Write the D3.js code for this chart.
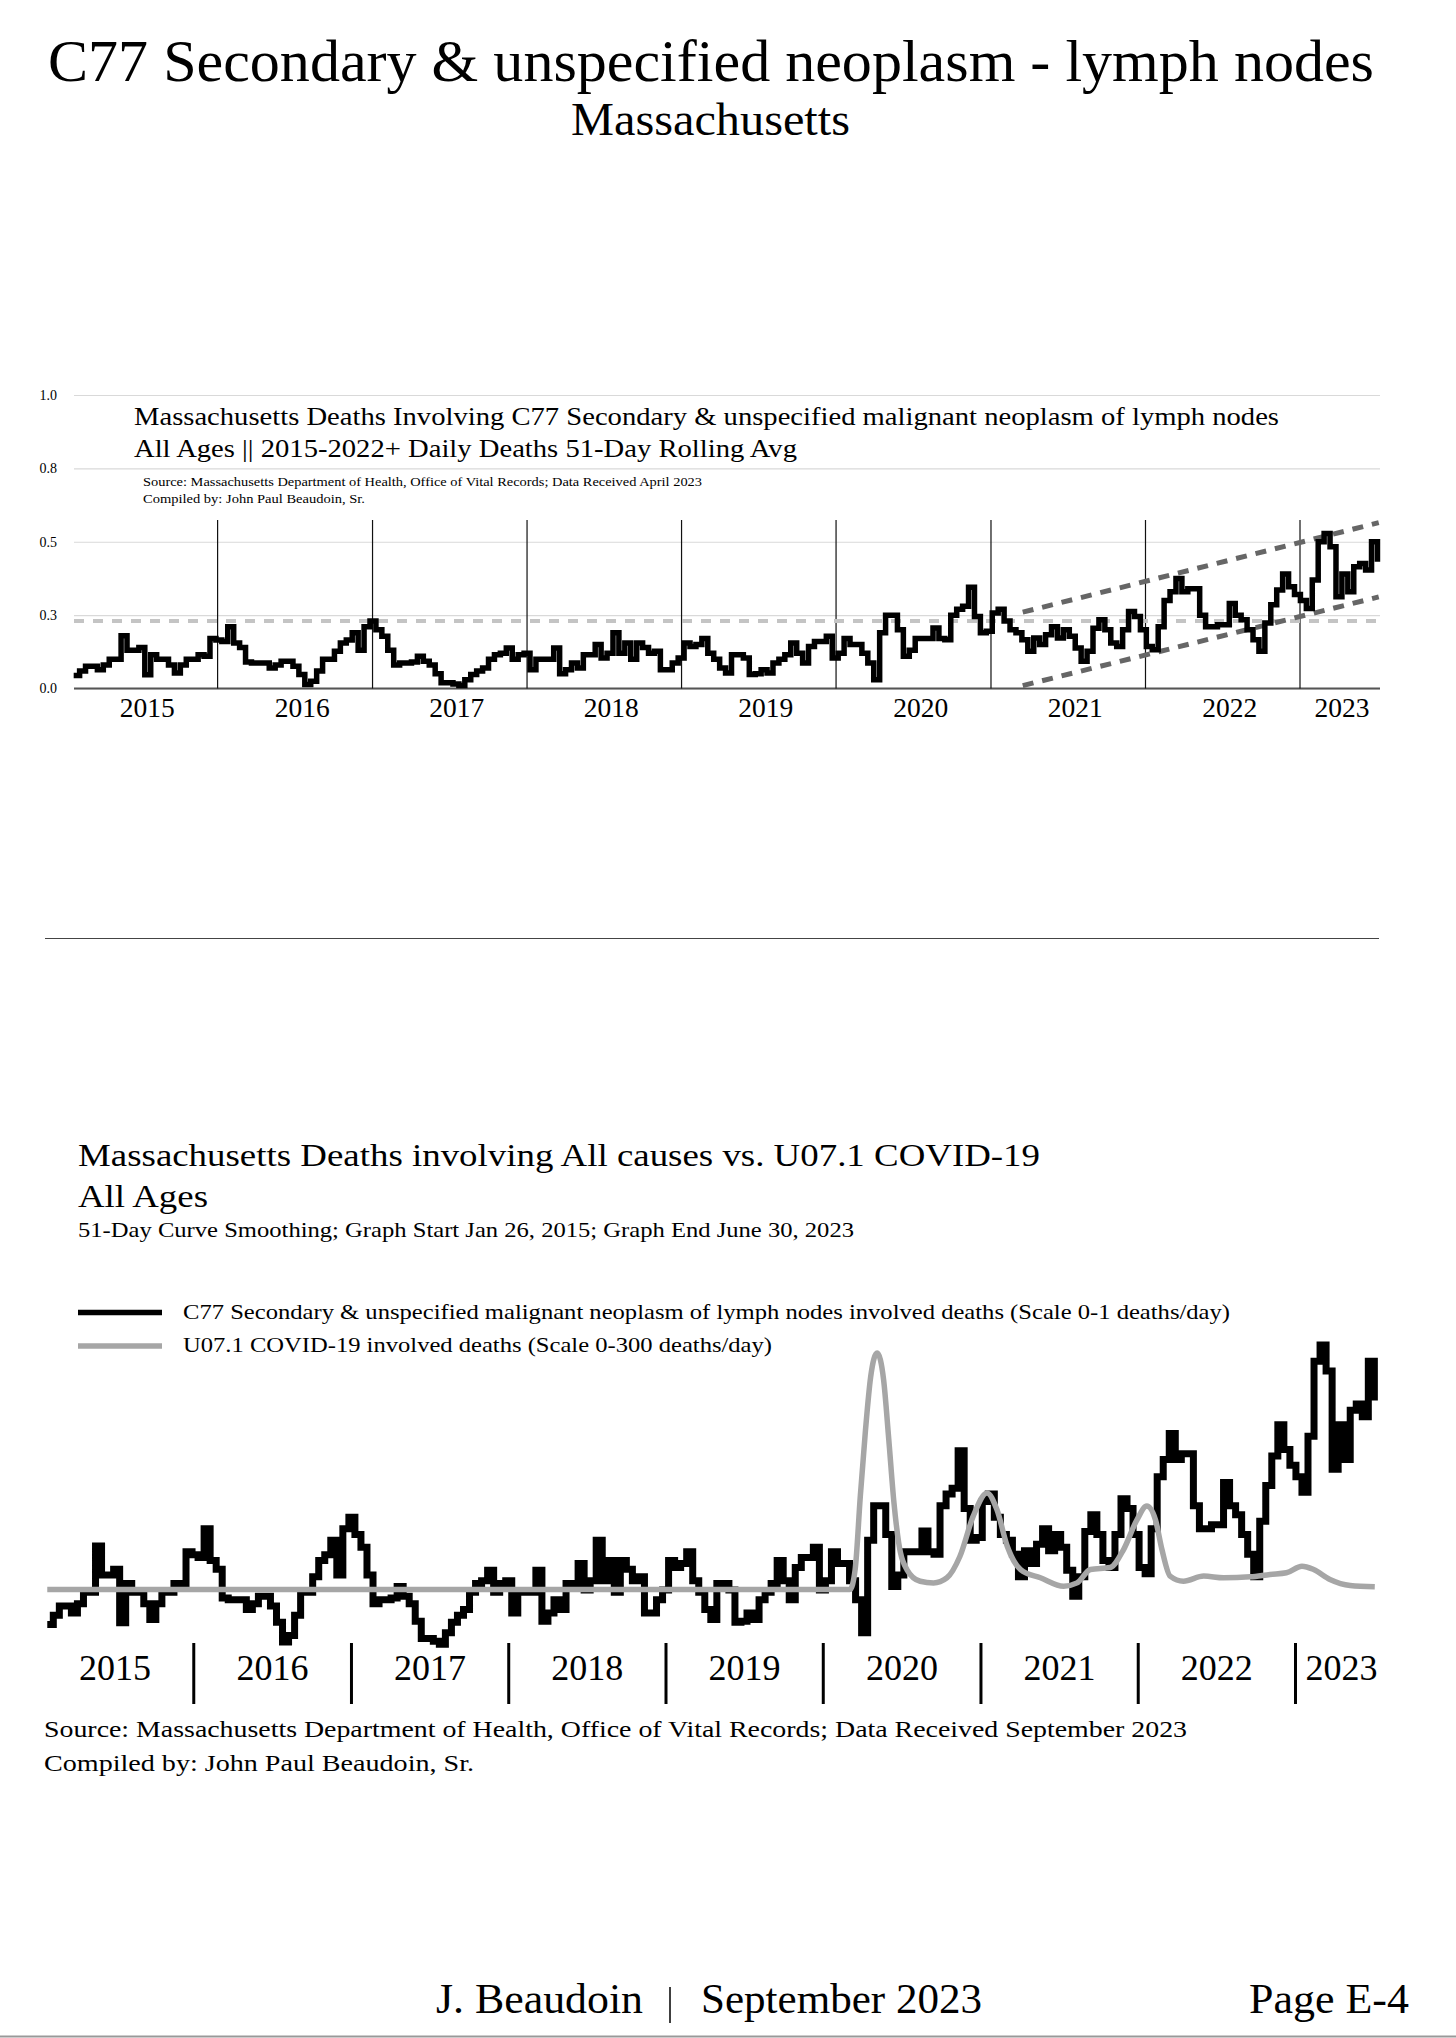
<!DOCTYPE html>
<html><head><meta charset="utf-8">
<script src="https://cdn.jsdelivr.net/npm/d3@7"></script>
<style>
body{margin:0;background:#fff}
svg{display:block}
text{font-family:"Liberation Serif","Times New Roman",Times,serif;fill:#000}
</style></head>
<body><svg id="c" width="1456" height="2038" font-family="Liberation Serif, Times New Roman, serif"></svg>
<script>
// ---------------- DATA ----------------
// C77 51-day rolling average, sampled every 14 days from Jan 26, 2015
const c77Start = "2015-01-26";
const c77StepDays = 14;
const c77Values = [
0.044,0.06,0.076,0.076,0.064,0.08,0.1,0.1,0.18,0.13,
0.13,0.14,0.047,0.115,0.1,0.1,0.08,0.053,0.08,0.1,
0.1,0.115,0.11,0.17,0.165,0.16,0.21,0.155,0.14,0.09,
0.087,0.087,0.087,0.07,0.08,0.093,0.093,0.076,0.048,0.014,
0.025,0.06,0.1,0.1,0.127,0.155,0.165,0.19,0.13,0.21,
0.23,0.2,0.178,0.13,0.08,0.087,0.087,0.09,0.11,0.093,
0.08,0.05,0.02,0.02,0.015,0.01,0.03,0.048,0.06,0.07,
0.1,0.115,0.12,0.138,0.1,0.115,
0.12,0.064,0.1,0.1,0.1,0.138,0.05,0.064,0.087,0.07,
0.115,0.115,0.15,0.104,0.12,0.19,0.12,0.155,0.1,0.155,
0.14,0.12,0.127,0.064,0.064,0.087,0.104,0.155,0.143,0.15,
0.17,0.12,0.1,0.07,0.053,0.115,0.115,0.104,0.048,0.05,
0.064,0.053,0.087,0.1,0.115,0.155,0.12,0.087,0.143,0.16,
0.16,0.178,0.104,0.12,0.17,0.15,0.15,0.12,0.087,0.03,
0.19,0.25,0.25,0.2,0.11,0.13,0.17,0.17,0.17,0.206,
0.17,0.166,0.25,0.27,
0.28,0.345,0.245,0.19,0.195,0.257,0.27,0.23,0.2,0.19,
0.166,0.127,0.172,0.15,0.183,0.21,0.172,0.2,0.178,0.138,
0.093,0.127,0.205,0.234,0.2,0.155,0.143,0.2,0.262,0.245,
0.2,0.143,0.132,0.21,0.3,0.33,0.375,0.33,0.34,0.34,
0.25,0.21,0.21,0.217,0.217,0.29,0.25,0.234,0.2,0.166,
0.127,0.223,0.285,0.336,0.39,0.347,0.32,0.3,0.273,0.37,
0.5,0.528,0.483,0.313,0.39,0.33,0.415,0.426,0.404,0.5,0.432
];
// U07.1 COVID-19 deaths per day (51-day smoothing)
const covidDates = ["2015-01-26","2020-03-03","2020-03-15","2020-03-27","2020-04-08","2020-04-20","2020-05-05","2020-05-20","2020-06-01","2020-06-13","2020-06-24","2020-07-13","2020-08-13","2020-09-13","2020-10-14","2020-11-13","2020-12-14","2021-01-15","2021-02-07","2021-03-03","2021-04-03","2021-05-19","2021-07-12","2021-08-12","2021-09-12","2021-10-28","2021-11-28","2021-12-29","2022-01-21","2022-02-10","2022-02-25","2022-03-16","2022-04-16","2022-06-02","2022-07-18","2022-09-18","2022-11-03","2022-12-11","2023-01-16","2023-02-12","2023-03-22","2023-05-08","2023-07-04"];
const covidValues = [0,0,10.9,51,87,116,129,114.5,82,47.5,25.6,10.9,4.5,3.6,6.4,18,40,52.7,43.6,23.6,10.9,6.4,1.8,3.6,10.9,12,21.8,38,45.5,38,21.8,7.3,4.5,7.3,6.4,6.9,8.2,9.1,12.7,10.9,5.5,2.2,1.5];
// trend channel (top chart)
const trendDates = ["2021-03-17","2023-07-06"];
const trendUpper = [0.26, 0.565];
const trendLower = [0.01, 0.312];
const baselineValue = 0.23;
const gridTicks = [0, 0.25, 0.5, 0.75, 1.0];
const yearLabels = [2015,2016,2017,2018,2019,2020,2021,2022,2023];
const yearBoundaries = [2016,2017,2018,2019,2020,2021,2022,2023];

// ---------------- SETUP ----------------
const parse = d3.timeParse("%Y-%m-%d");
const c77 = c77Values.map((v,i)=>({date:d3.timeDay.offset(parse(c77Start), i*c77StepDays), v}));
const covid = covidDates.map((d,i)=>({date:parse(d), v:covidValues[i]}));
const svg = d3.select("#c");
svg.append("rect").attr("width",1456).attr("height",2038).attr("fill","#fff");

function txt(x,y,s,size,opt={}){
  const t = svg.append("text").attr("x",x).attr("y",y).attr("font-size",size).text(s);
  if(opt.anchor) t.attr("text-anchor",opt.anchor);
  if(opt.len) t.attr("textLength",opt.len).attr("lengthAdjust","spacingAndGlyphs");
  return t;
}

// page titles
txt(711,81,"C77 Secondary & unspecified neoplasm - lymph nodes",60,{anchor:"middle",len:1326});
txt(710.5,135,"Massachusetts",46,{anchor:"middle",len:279});

// ---------------- CHART 1 ----------------
const x1 = d3.scaleTime().domain([new Date(2015,0,1), new Date(2023,0,1)]).range([63.1,1300]);
const y1 = d3.scaleLinear().domain([0,1]).range([688.5,395]);
const left1 = 74, right1 = 1380;

const ax = svg.append("g").attr("transform",`translate(${left1},0)`)
  .call(d3.axisLeft(y1).tickValues(gridTicks).tickFormat(d3.format(".1f")).tickSize(-(right1-left1)).tickPadding(17));
ax.select(".domain").remove();
ax.selectAll(".tick line").attr("stroke","#d9d9d9").attr("stroke-width",1.2);
ax.selectAll(".tick text").attr("font-size",14).attr("font-family","Liberation Serif, Times New Roman, serif").attr("fill","#222");

// baseline axis
svg.append("line").attr("x1",left1).attr("x2",right1).attr("y1",y1(0)).attr("y2",y1(0))
  .attr("stroke","#555").attr("stroke-width",2);

// chart 1 title block
txt(134,425,"Massachusetts Deaths Involving C77 Secondary & unspecified malignant neoplasm of lymph nodes",26,{len:1145});
txt(134,457,"All Ages || 2015-2022+ Daily Deaths 51-Day Rolling Avg",26,{len:663});
txt(143,486,"Source:  Massachusetts Department of Health, Office of Vital Records; Data Received April 2023",11.5,{len:559});
txt(143,503,"Compiled by:  John Paul Beaudoin, Sr.",11.5,{len:222});

// year separators
svg.append("g").selectAll("line").data(yearBoundaries).join("line")
  .attr("x1",d=>x1(new Date(d,0,1))).attr("x2",d=>x1(new Date(d,0,1)))
  .attr("y1",520).attr("y2",y1(0)).attr("stroke","#111").attr("stroke-width",1.2);

// baseline dashed
svg.append("line").attr("x1",left1).attr("x2",right1).attr("y1",y1(baselineValue)).attr("y2",y1(baselineValue))
  .attr("stroke","#c4c4c4").attr("stroke-width",4).attr("stroke-dasharray","10,9");

// trend channel
const trendLine = d3.line().x(d=>x1(d.date)).y(d=>y1(d.v));
[trendUpper,trendLower].forEach(arr=>{
  svg.append("path").datum(arr.map((v,i)=>({date:parse(trendDates[i]),v})))
    .attr("d",trendLine).attr("fill","none").attr("stroke","#666").attr("stroke-width",5).attr("stroke-dasharray","11,9");
});

// c77 line chart 1
svg.append("path").datum(c77)
  .attr("d",d3.line().x(d=>x1(d.date)).y(d=>y1(d.v)).curve(d3.curveStepAfter))
  .attr("fill","none").attr("stroke","#000").attr("stroke-width",5.5).attr("stroke-linejoin","miter");

// year labels chart 1
yearLabels.forEach((yr,i)=>{
  if(i===yearLabels.length-1){
    txt(x1(new Date(yr,0,1))+14.6,717,String(yr),27.5,{anchor:"start"});
  } else {
    txt(x1(new Date(yr,6,19)),717,String(yr),27.5,{anchor:"middle"});
  }
});

// divider
svg.append("line").attr("x1",45).attr("x2",1379).attr("y1",938.5).attr("y2",938.5).attr("stroke","#444").attr("stroke-width",1.2);

// ---------------- CHART 2 ----------------
txt(78,1166,"Massachusetts Deaths involving All causes vs. U07.1 COVID-19",31,{len:962});
txt(78,1207,"All Ages",31,{len:130});
txt(78,1237,"51-Day Curve Smoothing; Graph Start Jan 26, 2015; Graph End June 30, 2023",21,{len:776});

svg.append("line").attr("x1",78).attr("x2",162).attr("y1",1312.5).attr("y2",1312.5).attr("stroke","#000").attr("stroke-width",5.5);
txt(183,1318.5,"C77 Secondary & unspecified malignant neoplasm of lymph nodes involved deaths (Scale 0-1 deaths/day)",22,{len:1047});
svg.append("line").attr("x1",78).attr("x2",162).attr("y1",1346).attr("y2",1346).attr("stroke","#a6a6a6").attr("stroke-width",5.5);
txt(183,1352,"U07.1 COVID-19 involved deaths (Scale 0-300 deaths/day)",22,{len:589});

const x2 = d3.scaleTime().domain([new Date(2015,0,1), new Date(2023,0,1)]).range([36.5,1295.5]);
const yC = d3.scaleLinear().domain([0,1]).range([1650,1072.5]);
const yV = d3.scaleLinear().domain([0,300]).range([1589.5,1039.5]);

svg.append("path").datum(c77)
  .attr("d",d3.line().x(d=>x2(d.date)).y(d=>yC(d.v)).curve(d3.curveStepAfter))
  .attr("fill","none").attr("stroke","#000").attr("stroke-width",7);
svg.append("path").datum(covid)
  .attr("d",d3.line().x(d=>x2(d.date)).y(d=>yV(d.v)).curve(d3.curveMonotoneX))
  .attr("fill","none").attr("stroke","#a6a6a6").attr("stroke-width",5.5);

svg.append("g").selectAll("line").data(yearBoundaries).join("line")
  .attr("x1",d=>x2(new Date(d,0,1))).attr("x2",d=>x2(new Date(d,0,1)))
  .attr("y1",1643).attr("y2",1704).attr("stroke","#000").attr("stroke-width",3);

yearLabels.forEach((yr,i)=>{
  if(i===yearLabels.length-1){
    txt(x2(new Date(yr,0,1))+10,1680,String(yr),36,{anchor:"start"});
  } else {
    txt(x2(new Date(yr,6,2)),1680,String(yr),36,{anchor:"middle"});
  }
});

txt(44,1737,"Source:  Massachusetts Department of Health, Office of Vital Records; Data Received September 2023",24,{len:1143});
txt(44,1771,"Compiled by:  John Paul Beaudoin, Sr.",24,{len:430});

// ---------------- FOOTER ----------------
txt(436,2013,"J. Beaudoin",43,{len:207});
svg.append("line").attr("x1",670).attr("x2",670).attr("y1",1987).attr("y2",2023).attr("stroke","#000").attr("stroke-width",1.5);
txt(701,2013,"September 2023",43,{len:281});
txt(1249,2013,"Page E-4",43,{len:160});
svg.append("line").attr("x1",0).attr("x2",1456).attr("y1",2036.5).attr("y2",2036.5).attr("stroke","#999").attr("stroke-width",2);
</script></body></html>
